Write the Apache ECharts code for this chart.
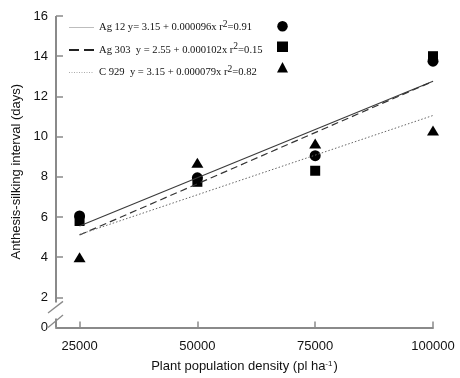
<!DOCTYPE html>
<html>
<head>
<meta charset="utf-8">
<script src="https://cdn.jsdelivr.net/npm/echarts@6/dist/echarts.min.js"></script>
<style>html,body{margin:0;padding:0;background:#fff}#c{width:460px;height:378px}</style>
</head>
<body>
<div id="c"></div>
<script>
// ---- data ----
const densities = [25000, 50000, 75000, 100000];
const ag12Means = [6.05, 7.95, 9.05, 13.75];
const ag303Means = [5.8, 7.75, 8.3, 14.0];
const c929Means = [4.0, 8.7, 9.65, 10.3];

const fitRange = [25000, 100000];
const ag12Fit = [5.55, 12.75];
const ag303Fit = [5.1, 12.75];
const c929Fit = [5.13, 11.05];

const hybrids = ['Ag 12', 'Ag 303', 'C 929'];
const equations = ['y= 3.15 + 0.000096x', ' y = 2.55 + 0.000102x', ' y = 3.15 + 0.000079x'];
const r2Values = ['0.91', '0.15', '0.82'];

const xTicks = [25000, 50000, 75000, 100000];
const yTicks = [2, 4, 6, 8, 10, 12, 14, 16];
const yBottomLabel = 0.5; // shown as "0" (broken axis)

const pairs = (xs, ys) => xs.map((x, i) => [x, ys[i]]);

const axisGray = '#8a8a8a';
const sans = 'Liberation Sans, Arial, sans-serif';
const serif = 'Liberation Serif, Times New Roman, serif';
const labelFont = { fontFamily: sans, fontSize: 13, color: '#111' };

const chart = echarts.init(document.getElementById('c'), null, { renderer: 'canvas' });

const lineNames = hybrids;
const ptNames = hybrids.map(h => h + ' ');
const hidden = { opacity: 0 };

const option = {
  animation: false,
  backgroundColor: '#fff',
  grid: { left: 56, right: 27, top: 16, bottom: 46 },
  xAxis: {
    type: 'value', min: 20000, max: 100000,
    axisLine: { show: true, onZero: false, lineStyle: { color: axisGray, width: 2 } },
    axisTick: { show: true, inside: true, length: 6, customValues: xTicks, lineStyle: { color: axisGray, width: 1.5 } },
    axisLabel: Object.assign({ customValues: xTicks, margin: 12, formatter: v => String(v) }, labelFont),
    splitLine: { show: false },
    name: 'Plant population density (pl ha{sup|-1})',
    nameLocation: 'middle', nameGap: 32,
    nameTextStyle: {
      fontFamily: sans, fontSize: 13, color: '#111',
      rich: { sup: { fontSize: 8, verticalAlign: 'top', padding: [0, 1, 6, 0], fontFamily: sans, color: '#111' } }
    }
  },
  yAxis: {
    type: 'value', min: yBottomLabel, max: 16,
    axisLine: { show: false },
    axisTick: { show: true, inside: true, length: 7, customValues: yTicks, lineStyle: { color: axisGray, width: 1.5 } },
    axisLabel: Object.assign({ customValues: [yBottomLabel].concat(yTicks), margin: 8,
      formatter: v => (v < 1 ? '0' : String(v)) }, labelFont),
    splitLine: { show: false },
    name: 'Anthesis-silking interval (days)',
    nameLocation: 'middle', nameGap: 31,
    nameTextStyle: { fontFamily: sans, fontSize: 13, color: '#111' }
  },
  legend: [
    {
      data: [
        { name: lineNames[0], itemStyle: hidden, lineStyle: { color: '#bdbdbd', width: 1, type: 'solid' } },
        { name: lineNames[1], itemStyle: hidden, lineStyle: { color: '#222', width: 2, type: [10, 5] } },
        { name: lineNames[2], itemStyle: hidden, lineStyle: { color: '#aaa', width: 1, type: [1, 1.5] } }
      ],
      orient: 'vertical', left: 63, top: 14,
      itemWidth: 25, itemHeight: 12, itemGap: 8.5, itemStyle: hidden,
      textStyle: { fontFamily: serif, fontSize: 10.6, color: '#111',
        rich: {
          t: { fontFamily: serif, fontSize: 10.6, color: '#111' },
          s: { fontFamily: serif, fontSize: 9.5, color: '#111', verticalAlign: 'top', padding: [0, 0, 7, 0] }
        } },
      formatter: name => {
        const i = hybrids.indexOf(name);
        return '{t|' + name + ' ' + equations[i] + ' r}{s|2}{t|=' + r2Values[i] + '}';
      }
    },
    {
      data: ptNames, orient: 'vertical', left: 272, top: 16,
      itemWidth: 11, itemHeight: 10.5, itemGap: 10,
      formatter: () => '', textStyle: { fontSize: 1 }
    }
  ],
  series: [
    { name: lineNames[0], type: 'line', data: pairs(fitRange, ag12Fit), symbol: 'none',
      lineStyle: { color: '#3a3a3a', width: 1.1, type: 'solid' }, itemStyle: { color: '#3a3a3a' } },
    { name: lineNames[1], type: 'line', data: pairs(fitRange, ag303Fit), symbol: 'none',
      lineStyle: { color: '#333', width: 1.2, type: [7, 4] }, itemStyle: { color: '#333' } },
    { name: lineNames[2], type: 'line', data: pairs(fitRange, c929Fit), symbol: 'none',
      lineStyle: { color: '#666', width: 1, type: [1.5, 2] }, itemStyle: { color: '#666' } },
    { name: ptNames[0], type: 'scatter', data: pairs(densities, ag12Means), symbol: 'circle', symbolSize: 11,
      itemStyle: { color: '#000', opacity: 1 } },
    { name: ptNames[1], type: 'scatter', data: pairs(densities, ag303Means), symbol: 'rect', symbolSize: 10,
      itemStyle: { color: '#000', opacity: 1 } },
    { name: ptNames[2], type: 'scatter', data: pairs(densities, c929Means), symbol: 'triangle', symbolSize: [12, 10],
      itemStyle: { color: '#000', opacity: 1 } }
  ]
};
chart.setOption(option);

// broken y-axis line and break marks, positioned through the axis scales
const toPx = (x, y) => chart.convertToPixel({ gridIndex: 0 }, [x, y]);
const xMin = 20000;
const pTop = toPx(xMin, 16);
const pBreak = toPx(xMin, 1.75);
const pCorner = toPx(xMin, 0.95);
const pBottom = toPx(xMin, yBottomLabel);
const ax = pTop[0];
const ln = (x1, y1, x2, y2, w) => ({ type: 'line', silent: true, z: 10,
  shape: { x1, y1, x2, y2 }, style: { stroke: axisGray, lineWidth: w } });
chart.setOption({ graphic: [
  ln(ax, pTop[1], ax, pBreak[1], 2),
  ln(ax, pCorner[1], ax, pBottom[1], 2),
  ln(ax - 8, toPx(xMin, 1.22)[1], ax + 7, toPx(xMin, 1.8)[1], 1.3),
  ln(ax - 8, toPx(xMin, 0.5)[1], ax + 7, toPx(xMin, 1.12)[1], 1.3)
] });
</script>
</body>
</html>
